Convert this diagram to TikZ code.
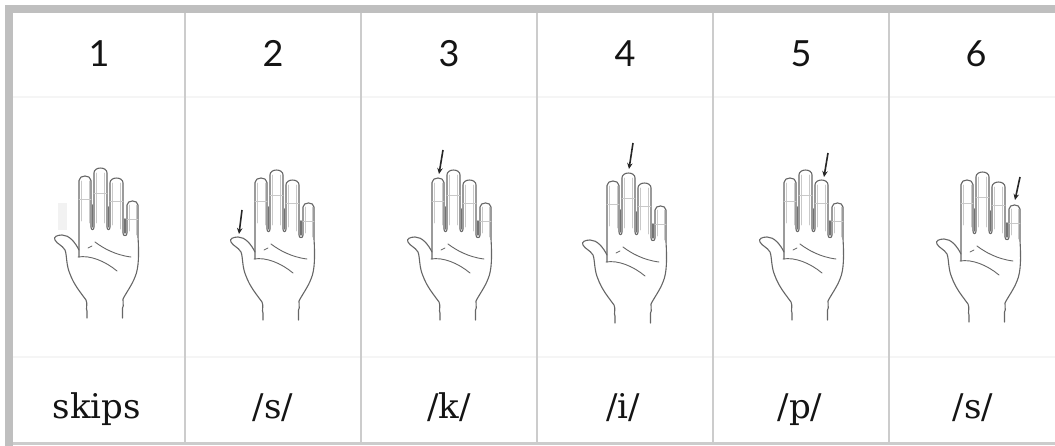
\documentclass[tikz,border=0pt]{standalone}
\usepackage{fontspec}
\usetikzlibrary{arrows.meta}
\newfontfamily\numfont{Lato}
\newfontfamily\labfont{DejaVu Serif}
\definecolor{bargray}{HTML}{BFBFBF}
\definecolor{rulegray}{HTML}{CCCCCC}
\definecolor{faintgray}{HTML}{F5F5F5}
\definecolor{inkgray}{HTML}{666666}

\tikzset{
  outline/.style={draw=inkgray, line width=1.1pt, line cap=round, line join=round},
  sketch/.style={draw=inkgray!35, line width=0.6pt, line cap=round},
  gapshade/.style={draw=black!55, line width=1.5pt, line cap=round},
  pointer/.style={draw=black!85, line width=1.6pt, -{Stealth[length=6pt,width=5.5pt]}},
  numlabel/.style={anchor=base, inner sep=0pt, font=\numfont\fontsize{36}{40}\selectfont, text=black!92},
  soundlabel/.style={anchor=base, inner sep=0pt, font=\labfont\fontsize{34}{40}\selectfont, text=black!92},
  divider/.style={draw=rulegray, line width=1.6pt},
  % open right hand, palm facing the viewer, origin at the palm centre
  hand/.pic={
    % four fingers and the right edge of the palm
    \path[outline] (-16,14) -- (-16,-62.5)
      .. controls (-16,-68.5) and (-4,-68.5) .. (-4,-62.5)
      -- (-4,-16) .. controls (-4,-12.5) and (-1,-12.5) .. (-1,-16)
      -- (-1,-70.1) .. controls (-1,-76.6) and (12,-76.6) .. (12,-70.1)
      -- (12,-16) .. controls (12,-12.5) and (15,-12.5) .. (15,-16)
      -- (15,-60.1) .. controls (15,-66.6) and (28,-66.6) .. (28,-60.1)
      -- (28,-10) .. controls (28,-6.5) and (32,-6.5) .. (32,-10)
      -- (32,-37.9) .. controls (32,-43.4) and (43,-43.4) .. (43,-37.9)
      -- (43,-6) .. controls (44,10) and (44,25) .. (40,34)
      .. controls (37,42) and (31,50) .. (28,56)
      .. controls (27,59) and (29.5,62) .. (27.5,65) -- (27.5,75);
    % thumb and left edge of the palm
    \path[outline] (-16,7) .. controls (-20,-1) and (-26,-8) .. (-33,-8)
      .. controls (-38,-8) and (-42,-6) .. (-40,-3)
      .. controls (-38,1) and (-33,2) .. (-30,7)
      .. controls (-28,12) and (-29,22) .. (-25,31)
      .. controls (-21,42) and (-14,50) .. (-9,57)
      .. controls (-7,61) and (-9.5,66) .. (-8,68) -- (-8,75);
    % palm creases
    \path[outline, line width=0.9pt] (0,-1) .. controls (8,5) and (20,12) .. (36,14);
    \path[outline, line width=0.9pt] (-17,14) .. controls (-5,12) and (10,18) .. (22,28);
    \path[outline, line width=0.7pt] (-7,5) -- (-3,3);
    % shading in the gaps between the fingers
    \path[gapshade] (-2.5,-38) -- (-2.5,-16);
    \path[gapshade] (13.5,-36) -- (13.5,-16);
    \path[gapshade] (30,-24) -- (30,-10);
    % pencil doubling along the finger edges
    \path[sketch] (-13.8,-22) -- (-13.8,-62) (-6.2,-20) -- (-6.2,-62);
    \path[sketch] (1.3,-20) -- (1.3,-70) (9.7,-20) -- (9.7,-70);
    \path[sketch] (17.3,-18) -- (17.3,-60) (25.7,-14) -- (25.7,-60);
    \path[sketch] (34.2,-12) -- (34.2,-38) (40.8,-8) -- (40.8,-38);
    % finger joints
    \path[sketch] (-16,-44) -- (-4,-44) (-1,-50) -- (12,-50)
                  (15,-42) -- (28,-42) (32,-24) -- (43,-24);
  }
}

\begin{document}
\begin{tikzpicture}[x=1pt, y=-1pt]
  \useasboundingbox (0,0) rectangle (1055,446);
  \fill[white] (0,0) rectangle (1055,446);

  % faint row separators
  \draw[faintgray, line width=1.2pt] (13,97) -- (1055,97);
  \draw[faintgray, line width=1.2pt] (13,357) -- (1055,357);

  % column separators and bottom rule
  \foreach \xx in {185,361,537,713,889}
    \draw[divider] (\xx,13) -- (\xx,443);
  \fill[rulegray] (5,442) rectangle (1055,445);

  % heavy top and left borders
  \fill[bargray] (5,5) rectangle (1055,13);
  \fill[bargray] (5,5) rectangle (13,446);

  % step numbers
  \node[numlabel] (n1) at (99,67)  {1};
  \node[numlabel] (n2) at (273,67) {2};
  \node[numlabel] (n3) at (449,67) {3};
  \node[numlabel] (n4) at (625,67) {4};
  \node[numlabel] (n5) at (801,67) {5};
  \node[numlabel] (n6) at (976,67) {6};

  % hands
  \fill[black!5] (58,203) rectangle (67,230);
  \pic (h1) at (95,243)  {hand};
  \pic (h2) at (271,245) {hand};
  \pic (h3) at (448,245) {hand};
  \pic (h4) at (623,248) {hand};
  \pic (h5) at (800,245) {hand};
  \pic (h6) at (977,247) {hand};

  % tapping pointers
  \coordinate (a2s) at (242,210);  \coordinate (a2e) at (239,234);
  \coordinate (a3s) at (443,150);  \coordinate (a3e) at (439,174);
  \coordinate (a4s) at (633,143);  \coordinate (a4e) at (629,169);
  \coordinate (a5s) at (828,153);  \coordinate (a5e) at (824,177);
  \coordinate (a6s) at (1020,177); \coordinate (a6e) at (1015,200);
  \draw[pointer] (a2s) -- (a2e);
  \draw[pointer] (a3s) -- (a3e);
  \draw[pointer] (a4s) -- (a4e);
  \draw[pointer] (a5s) -- (a5e);
  \draw[pointer] (a6s) -- (a6e);

  % sounds
  \node[soundlabel] (l1) at (97,418)  {skips};
  \node[soundlabel] (l2) at (273,418) {/s/};
  \node[soundlabel] (l3) at (449,418) {/k/};
  \node[soundlabel] (l4) at (623,418) {/i/};
  \node[soundlabel] (l5) at (800,418) {/p/};
  \node[soundlabel] (l6) at (973,418) {/s/};
\end{tikzpicture}
\end{document}
